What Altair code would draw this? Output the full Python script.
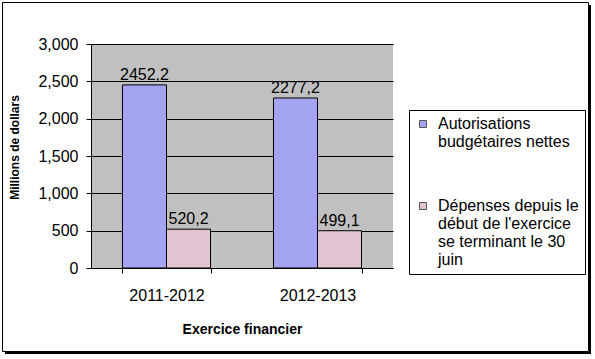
import altair as alt
import pandas as pd

years = ["2011-2012", "2012-2013"]
series = ["Autorisations|budgétaires nettes",
          "Dépenses depuis le|début de l'exercice|se terminant le 30|juin"]
authorities = [2452.2, 2277.2]
spending = [520.2, 499.1]
y_ticks = [0, 500, 1000, 1500, 2000, 2500, 3000]

rows = []
for i, yr in enumerate(years):
    rows.append({"year": yr, "series": series[0], "value": authorities[i]})
    rows.append({"year": yr, "series": series[1], "value": spending[i]})
df = pd.DataFrame(rows)

FONT = "Liberation Sans"
W, H = 302, 224
LAB_DY = 5  # vertical shift applied to guide labels through the style

x_enc = alt.X("year:N", sort=years,
              scale=alt.Scale(paddingInner=0.417, paddingOuter=0.2085),
              axis=alt.Axis(title="Exercice financier", labelAngle=0, tickBand="extent",
                            labelFontSize=16, labelPadding=22 - LAB_DY, labelBaseline="middle",
                            titleFontSize=14, titleFontWeight="bold", titleY=61,
                            titleBaseline="middle"))
xo_enc = alt.XOffset("series:N", sort=series, scale=alt.Scale(paddingInner=0, paddingOuter=0))
y_enc = alt.Y("value:Q", scale=alt.Scale(domain=[0, 3000], nice=False),
              axis=alt.Axis(title="Millions de dollars", values=y_ticks, format=",d",
                            labelFontSize=16, labelPadding=8, grid=True, labelOverlap=False,
                            labelOffset=-LAB_DY,
                            titleFontSize=12, titleFontWeight="bold",
                            titleX=-77, titleY=103, titleBaseline="middle"))

color = alt.Color("series:N", sort=series,
                  scale=alt.Scale(domain=series, range=["#A4A4F2", "#E2C3D2"]),
                  legend=alt.Legend(title=None, orient="none", legendX=318, legendY=66,
                                    labelExpr="split(datum.label, '|')",
                                    labelFontSize=16, labelFont=FONT, labelLimit=300,
                                    labelBaseline="alphabetic", labelOffset=7,
                                    symbolType="square", symbolSize=49,
                                    symbolStrokeColor="#555555", symbolStrokeWidth=1,
                                    rowPadding=48, padding=6,
                                    strokeColor="black", fillColor="white"))

bars = alt.Chart(df).mark_bar(stroke="black", strokeWidth=1).encode(
    x=x_enc, xOffset=xo_enc, y=y_enc, color=color
)

labels = alt.Chart(df).transform_calculate(
    lab="replace(format(datum.value, '.1f'), '.', ',')"
).mark_text(baseline="bottom", dy=-2, fontSize=16, font=FONT, color="black").encode(
    x=x_enc, xOffset=xo_enc, y=y_enc, text="lab:N"
)

one = alt.Data(values=[{"a": 1}])
frame = alt.Chart(one).mark_rect(fill="transparent", stroke="black", strokeWidth=1).encode(
    x=alt.value(-88.5), x2=alt.value(497.5), y=alt.value(-41.5), y2=alt.value(307.5)
)
shadow_r = alt.Chart(one).mark_rule(color="black", strokeWidth=2).encode(
    x=alt.value(499), y=alt.value(-39), y2=alt.value(309)
)
shadow_b = alt.Chart(one).mark_rule(color="black", strokeWidth=2).encode(
    y=alt.value(309), x=alt.value(-86), x2=alt.value(500)
)

chart = alt.layer(bars, labels, frame, shadow_r, shadow_b).properties(
    width=W, height=H,
    padding={"left": 91, "top": 44, "right": 202, "bottom": 91},
    autosize=alt.AutoSizeParams(type="none"),
    background="white",
).configure_view(
    fill="#C0C0C0", stroke=None
).configure_axis(
    labelFont=FONT, titleFont=FONT, labelColor="black", titleColor="black",
    domainColor="black", tickColor="black", tickSize=5, gridColor="black",
    gridWidth=1, domainWidth=1
).configure_axisX(grid=False)
chart.config.style = {"guide-label": {"dy": LAB_DY}}

chart.save("out.html", embed_options={"renderer": "svg", "actions": False})
